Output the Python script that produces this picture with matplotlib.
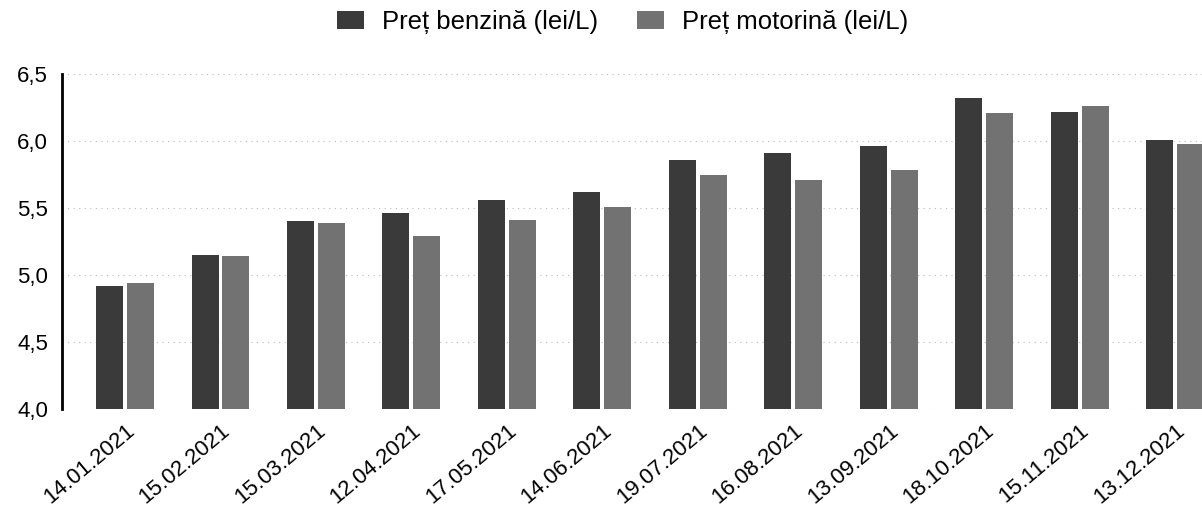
import matplotlib.pyplot as plt
import numpy as np

dates = ["14.01.2021", "15.02.2021", "15.03.2021", "12.04.2021", "17.05.2021", "14.06.2021",
         "19.07.2021", "16.08.2021", "13.09.2021", "18.10.2021", "15.11.2021", "13.12.2021"]
benzina = [4.92, 5.15, 5.40, 5.46, 5.56, 5.62, 5.86, 5.91, 5.96, 6.32, 6.22, 6.01]
motorina = [4.94, 5.14, 5.39, 5.29, 5.41, 5.51, 5.75, 5.71, 5.78, 6.21, 6.26, 5.98]
y_ticks = [4.0, 4.5, 5.0, 5.5, 6.0, 6.5]

plt.rcParams['font.family'] = ['Liberation Sans', 'DejaVu Sans']

fig = plt.figure(figsize=(12.02, 5.15), dpi=100)
ax = fig.add_axes([62 / 1202, 1 - 409 / 515, 1 - 62 / 1202, (409 - 74) / 515])

x = np.arange(len(dates))
w = 0.283
ax.bar(x - 0.162, benzina, width=w, color="#3a3a3a", label="Preț benzină (lei/L)", zorder=3)
ax.bar(x + 0.162, motorina, width=w, color="#727272", label="Preț motorină (lei/L)", zorder=3)

ax.set_ylim(4.0, 6.5)
ax.set_xlim(-0.66, 11.28)
ax.set_yticks(y_ticks)
ax.set_yticklabels([f"{t:.1f}".replace(".", ",") for t in y_ticks], fontsize=16)
ax.set_xticks(x)
ax.set_xticklabels(dates, rotation=40, ha="right", rotation_mode="anchor", fontsize=16)
ax.tick_params(axis="both", length=0)
ax.tick_params(axis="x", pad=8)
ax.tick_params(axis="y", pad=10)

ax.grid(axis="y", color="#bbbbbb", linestyle=(0, (1, 4)), linewidth=0.8, zorder=0)
for s in ["top", "right", "bottom"]:
    ax.spines[s].set_visible(False)
ax.spines["left"].set_linewidth(2)
ax.spines["left"].set_color("black")

fig.legend(loc="center", bbox_to_anchor=(0.518, 1 - 22 / 515), ncol=2, frameon=False,
           fontsize=18.5, handlelength=1.05, handleheight=0.75, handletextpad=0.7,
           columnspacing=1.5, borderpad=0)

fig.savefig("out.png", dpi=100)
